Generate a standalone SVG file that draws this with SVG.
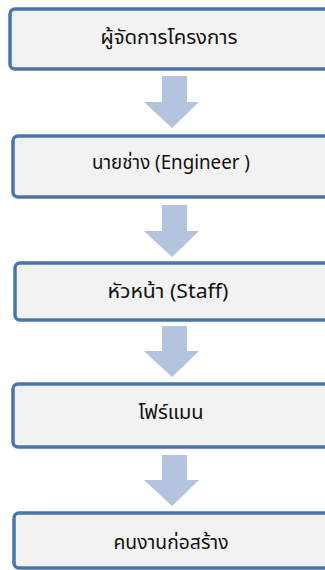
<svg xmlns="http://www.w3.org/2000/svg" width="325" height="570" viewBox="0 0 325 570">
<style>
.box{fill:#f2f2f2;stroke:#4a74aa;stroke-width:3.5}
.lbl{font-family:"Noto Sans Thai","Liberation Sans","DejaVu Sans",sans-serif;font-size:19px;fill:#111;text-anchor:middle;dominant-baseline:central}
.arr{fill:#b4c4de}
</style>
<rect width="325" height="570" fill="#ffffff"/>
<g id="connectors">
<polygon class="arr" points="162,76 187,76 187,102 199,102 172,128 144,102 162,102"/>
<polygon class="arr" points="162,205 187,205 187,231 199,231 172,257 144,231 162,231"/>
<polygon class="arr" points="162,326 187,326 187,351 199,351 172,377 144,351 162,351"/>
<polygon class="arr" points="162,455 187,455 187,480 199,480 172,506 144,480 162,480"/>
</g>
<g id="node1"><rect class="box" x="10" y="9" width="330" height="60" rx="5"/><text class="lbl" x="169" y="38" textLength="137" lengthAdjust="spacingAndGlyphs">ผู้จัดการโครงการ</text></g>
<g id="node2"><rect class="box" x="13" y="136" width="327" height="61" rx="5"/><text class="lbl" x="171" y="163" textLength="158" lengthAdjust="spacingAndGlyphs">นายช่าง (Engineer )</text></g>
<g id="node3"><rect class="box" x="15" y="263" width="325" height="57" rx="5"/><text class="lbl" x="168" y="292" textLength="121" lengthAdjust="spacingAndGlyphs">หัวหน้า (Staff)</text></g>
<g id="node4"><rect class="box" x="13" y="384" width="327" height="63" rx="5"/><text class="lbl" x="171" y="413" textLength="65" lengthAdjust="spacingAndGlyphs">โฟร์แมน</text></g>
<g id="node5"><rect class="box" x="14" y="513" width="326" height="55" rx="5"/><text class="lbl" x="171" y="543" textLength="115" lengthAdjust="spacingAndGlyphs">คนงานก่อสร้าง</text></g>
</svg>
